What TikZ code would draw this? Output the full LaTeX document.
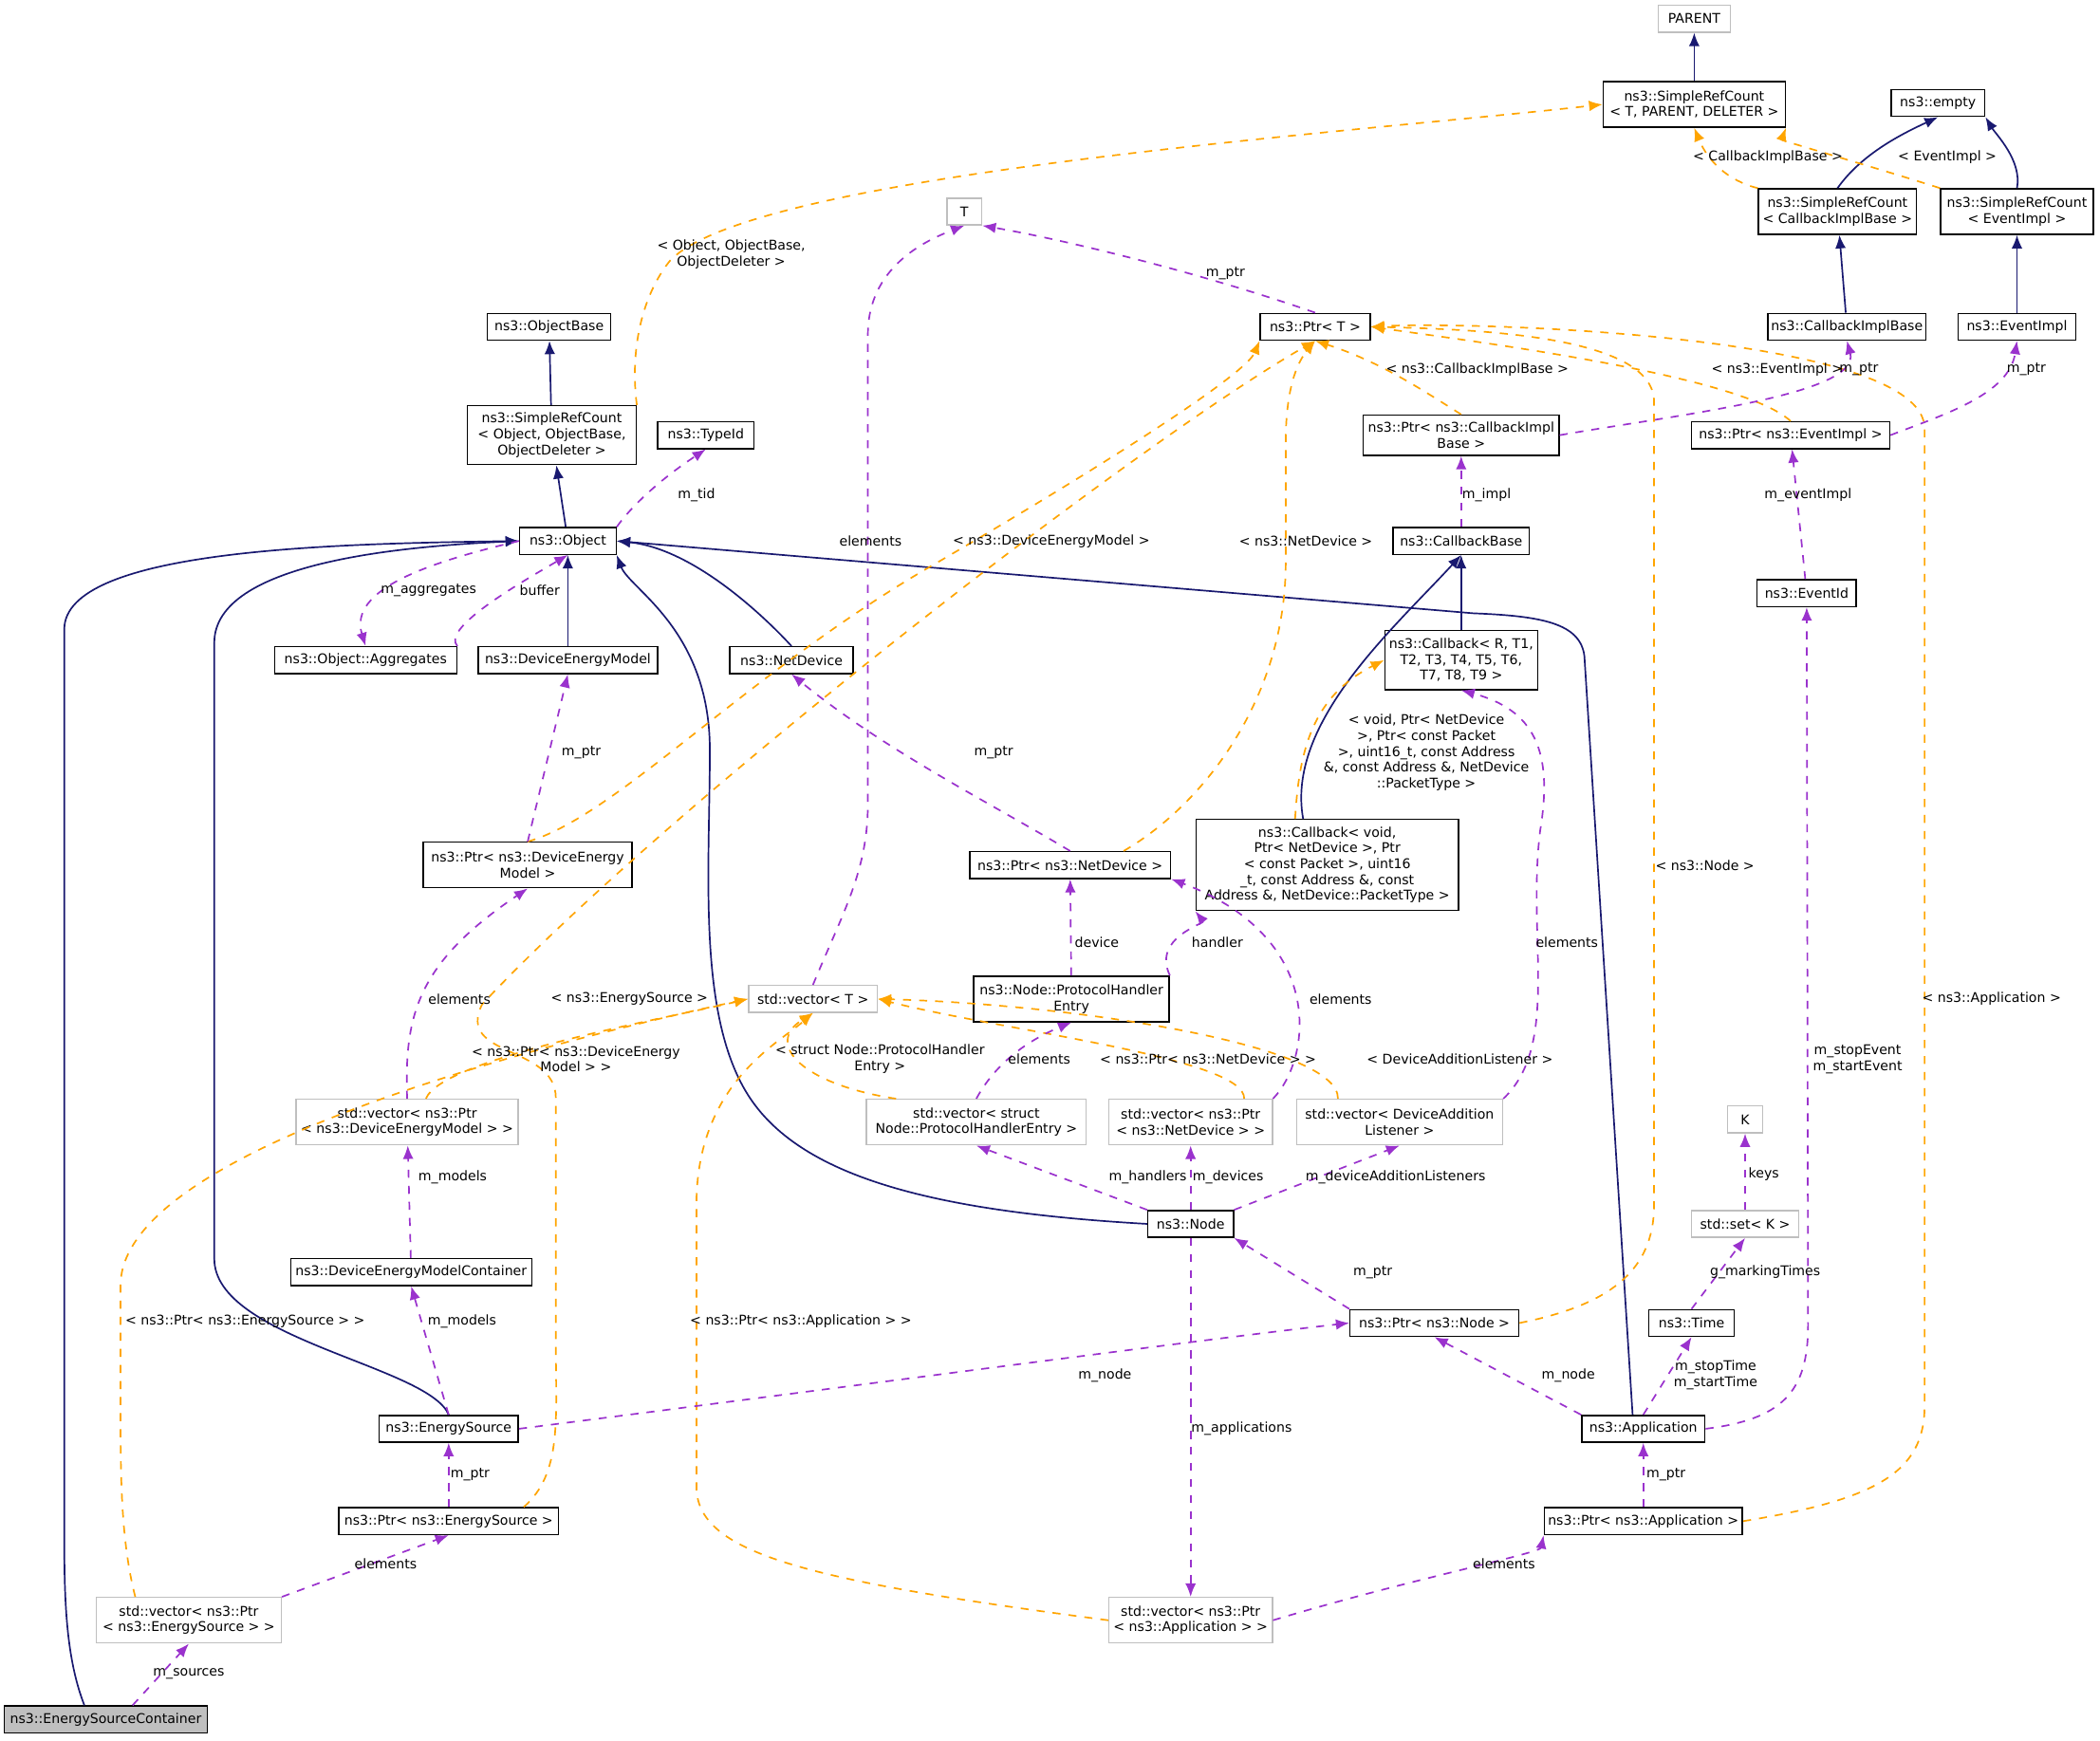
\documentclass[tikz,border=0pt]{standalone}
\usepackage{fontspec}
\setmainfont{DejaVu Sans}
\usetikzlibrary{arrows.meta}
\definecolor{navy}{HTML}{191970}
\definecolor{purp}{HTML}{9A32CD}
\definecolor{orng}{HTML}{FFA500}
\definecolor{gbor}{HTML}{BFBFBF}
\begin{document}
\begin{tikzpicture}[x=0.5pt,y=-0.5pt,
 every node/.style={font=\fontsize{5}{5.9}\selectfont},
 cls/.style={draw=black,fill=white,inner sep=1pt,align=center,minimum height=10pt,line width=0.5pt},
 ext/.style={cls,draw=gbor},
 lbl/.style={inner sep=0pt,align=center},
 inh/.style={draw=navy,line width=0.6pt,-{Latex[length=5pt,width=4pt]}},
 use/.style={draw=purp,dashed,line width=0.6pt,-{Latex[length=5pt,width=4pt]}},
 tpl/.style={draw=orng,dashed,line width=0.6pt,-{Latex[length=5pt,width=4pt]}}]
\useasboundingbox (0,0) rectangle (1568,1300);
\fill[white] (0,0) rectangle (1568,1300);
% nodes
\node[ext,minimum width=27pt] (PARENT) at (1265,14) {PARENT};
\node[cls,minimum width=68pt,minimum height=17pt] (SRCT) at (1265,78) {ns3::SimpleRefCount\\< T, PARENT, DELETER >};
\node[cls,minimum width=35pt] (empty) at (1447,77) {ns3::empty};
\node[cls,minimum width=59pt,minimum height=17pt] (SRCCB) at (1372,158) {ns3::SimpleRefCount\\< CallbackImplBase >};
\node[cls,minimum width=57pt,minimum height=17pt] (SRCEI) at (1506,158) {ns3::SimpleRefCount\\< EventImpl >};
\node[ext,minimum width=13pt] (T) at (720,158) {T};
\node[cls,minimum width=41pt] (PtrT) at (982,244) {ns3::Ptr< T >};
\node[cls,minimum width=59pt] (CBIB) at (1379,244) {ns3::CallbackImplBase};
\node[cls,minimum width=44pt] (EI) at (1506,244) {ns3::EventImpl};
\node[cls,minimum width=46pt] (OB) at (410,244) {ns3::ObjectBase};
\node[cls,minimum width=63pt,minimum height=22pt] (SRCO) at (412,325) {ns3::SimpleRefCount\\< Object, ObjectBase,\\ObjectDeleter >};
\node[cls,minimum width=36pt] (TypeId) at (527,325) {ns3::TypeId};
\node[cls,minimum width=73pt,minimum height=15pt] (PCB) at (1091,325) {ns3::Ptr< ns3::CallbackImpl\\Base >};
\node[cls,minimum width=74pt] (PEI) at (1337,325) {ns3::Ptr< ns3::EventImpl >};
\node[cls,minimum width=36pt] (Object) at (424,404) {ns3::Object};
\node[cls,minimum width=51pt] (CBB) at (1091,404) {ns3::CallbackBase};
\node[cls,minimum width=37pt] (EvId) at (1349,443) {ns3::EventId};
\node[cls,minimum width=68pt] (Agg) at (273,493) {ns3::Object::Aggregates};
\node[cls,minimum width=67pt] (DEM) at (424,493) {ns3::DeviceEnergyModel};
\node[cls,minimum width=46pt] (ND) at (591,493) {ns3::NetDevice};
\node[cls,minimum width=57pt,minimum height=22pt] (CbR) at (1091,493) {ns3::Callback< R, T1,\\T2, T3, T4, T5, T6,\\T7, T8, T9 >};
\node[cls,minimum width=98pt,minimum height=34pt] (CbV) at (991,646) {ns3::Callback< void,\\ Ptr< NetDevice >, Ptr\\< const Packet >, uint16\\\_t, const Address \&, const\\ Address \&, NetDevice::PacketType >};
\node[cls,minimum width=78pt,minimum height=17pt] (PDEM) at (394,646) {ns3::Ptr< ns3::DeviceEnergy\\Model >};
\node[cls,minimum width=75pt] (PND) at (799,646) {ns3::Ptr< ns3::NetDevice >};
\node[ext,minimum width=48pt] (VT) at (607,746) {std::vector< T >};
\node[cls,minimum width=73pt,minimum height=17pt] (PHE) at (800,746) {ns3::Node::ProtocolHandler\\Entry};
\node[ext,minimum width=83pt,minimum height=17pt] (VDEM) at (304,838) {std::vector< ns3::Ptr\\< ns3::DeviceEnergyModel > >};
\node[ext,minimum width=82pt,minimum height=17pt] (VPHE) at (729,838) {std::vector< struct\\ Node::ProtocolHandlerEntry >};
\node[ext,minimum width=61pt,minimum height=17pt] (VND) at (889,838) {std::vector< ns3::Ptr\\< ns3::NetDevice > >};
\node[ext,minimum width=77pt,minimum height=17pt] (VDAL) at (1045,838) {std::vector< DeviceAddition\\Listener >};
\node[ext,minimum width=13pt] (K) at (1303,836) {K};
\node[cls,minimum width=32pt] (Node) at (889,914) {ns3::Node};
\node[ext,minimum width=40pt] (SetK) at (1303,914) {std::set< K >};
\node[cls,minimum width=90pt] (DEMC) at (307,950) {ns3::DeviceEnergyModelContainer};
\node[cls,minimum width=63pt] (PNode) at (1071,988) {ns3::Ptr< ns3::Node >};
\node[cls,minimum width=32pt] (Time) at (1263,988) {ns3::Time};
\node[cls,minimum width=52pt] (ES) at (335,1067) {ns3::EnergySource};
\node[cls,minimum width=46pt] (App) at (1227,1067) {ns3::Application};
\node[cls,minimum width=82pt] (PES) at (335,1136) {ns3::Ptr< ns3::EnergySource >};
\node[cls,minimum width=74pt] (PApp) at (1227,1136) {ns3::Ptr< ns3::Application >};
\node[ext,minimum width=69pt,minimum height=17pt] (VES) at (141,1210) {std::vector< ns3::Ptr\\< ns3::EnergySource > >};
\node[ext,minimum width=61pt,minimum height=17pt] (VApp) at (889,1210) {std::vector< ns3::Ptr\\< ns3::Application > >};
\node[cls,fill=gbor,minimum width=76pt] (ESC) at (79,1284) {ns3::EnergySourceContainer};
% inheritance
\draw[inh] (SRCT) -- (PARENT);
\draw[inh] (SRCCB.north) .. controls (1390,115) and (1420,100) .. (empty.south);
\draw[inh] (SRCEI.north) .. controls (1510,120) and (1490,100) .. (empty.south east);
\draw[inh] (CBIB) -- (SRCCB);
\draw[inh] (EI) -- (SRCEI);
\draw[inh] (SRCO) -- (OB);
\draw[inh] (Object) -- (SRCO);
\draw[inh] (DEM) -- (Object);
\draw[inh] (ND.north) .. controls (575,465) and (520,410) .. (Object.east);
\draw[inh] (CbR) -- (CBB);
\draw[inh] ([xshift=-9pt]CbV.north) .. controls (960,540) and (1040,470) .. (CBB.south);
\draw[inh] ([xshift=-8pt]ESC.north) .. controls (50,1240) and (48,1200) .. (48,1150) -- (48,470) .. controls (48,410) and (250,406) .. (Object.west);
\draw[inh] (ES.north) .. controls (320,1020) and (160,1000) .. (160,940) -- (160,480) .. controls (160,420) and (300,408) .. (Object.west);
\draw[inh] (Node.west) .. controls (700,905) and (600,880) .. (560,820) .. controls (520,760) and (530,650) .. (530,560) .. controls (530,470) and (470,440) .. (Object.south east);
\draw[inh] ([xshift=-4pt]App.north) -- (1183,490) .. controls (1180,465) and (1150,460) .. (1100,458) -- (Object.east);
% templates
\draw[tpl] (SRCO.north east) .. controls (470,260) and (480,220) .. (500,195) .. controls (560,130) and (1000,100) .. (SRCT.west);
\draw[tpl] (SRCCB.north west) .. controls (1290,135) and (1275,120) .. (SRCT.south);
\draw[tpl] (SRCEI.north west) .. controls (1400,125) and (1330,105) .. (SRCT.south east);
\draw[tpl] (PCB.north) .. controls (1060,290) and (1030,270) .. (PtrT.south);
\draw[tpl] (PEI.north) .. controls (1300,280) and (1100,255) .. (PtrT.east);
\draw[tpl] (PDEM.north) .. controls (460,610) and (560,500) .. (700,420) .. controls (820,350) and (930,280) .. (PtrT.south west);
\draw[tpl] ([xshift=20pt]PND.north) .. controls (900,600) and (960,520) .. (960,420) -- (960,330) .. controls (960,300) and (965,275) .. (PtrT.south);
\draw[tpl] ([xshift=28pt]PES.north) .. controls (420,1100) and (415,1060) .. (415,1000) -- (415,820) .. controls (415,780) and (340,790) .. (360,750) .. controls (500,600) and (850,330) .. (PtrT.south);
\draw[tpl] (PNode.east) .. controls (1200,975) and (1235,950) .. (1235,900) -- (1235,300) .. controls (1235,250) and (1100,246) .. (PtrT.east);
\draw[tpl] (PApp.east) .. controls (1400,1120) and (1437,1100) .. (1437,1050) -- (1437,320) .. controls (1437,250) and (1100,240) .. (PtrT.east);
\draw[tpl] ([xshift=-12pt]CbV.north) .. controls (970,560) and (980,520) .. (CbR.west);
\draw[tpl] ([xshift=-20pt]VES.north) .. controls (90,1150) and (90,1100) .. (90,1050) -- (90,960) .. controls (90,860) and (400,780) .. (VT.west);
\draw[tpl] (VApp.west) .. controls (600,1180) and (520,1160) .. (520,1110) -- (520,900) .. controls (520,810) and (580,780) .. (VT.south);
\draw[tpl] ([xshift=7pt]VDEM.north) .. controls (330,790) and (500,760) .. (VT.west);
\draw[tpl] ([xshift=-30pt]VPHE.north) .. controls (600,810) and (570,780) .. (VT.south);
\draw[tpl] ([xshift=20pt]VND.north) .. controls (930,790) and (750,770) .. (VT.east);
\draw[tpl] ([xshift=-23pt]VDAL.north) .. controls (1000,780) and (800,750) .. (VT.east);
% usage
\draw[use] (PtrT.north) .. controls (900,205) and (800,180) .. (T.south east);
\draw[use] (Object.north east) .. controls (470,380) and (490,360) .. (TypeId.south);
\draw[use] (PCB.east) .. controls (1250,310) and (1390,295) .. (CBIB.south);
\draw[use] (PEI.east) .. controls (1450,310) and (1500,295) .. (EI.south);
\draw[use] (CBB) -- (PCB);
\draw[use] (EvId) -- (PEI);
\draw[use] (Object.west) .. controls (320,420) and (260,440) .. (Agg.north);
\draw[use] (Agg.north east) .. controls (330,470) and (380,440) .. (Object.south);
\draw[use] (PDEM.north) -- (DEM.south);
\draw[use] (PND.north) .. controls (740,600) and (660,560) .. (ND.south);
\draw[use] (VT.north) .. controls (630,680) and (648,650) .. (648,600) -- (648,250) .. controls (648,200) and (690,180) .. (T.south);
\draw[use] (PHE.north east) .. controls (860,700) and (900,690) .. (CbV.south west);
\draw[use] (PHE) -- (PND);
\draw[use] (VND.north east) .. controls (980,790) and (990,700) .. (PND.south east);
\draw[use] (VDAL.north east) .. controls (1165,780) and (1140,700) .. (1150,620) .. controls (1160,560) and (1145,530) .. (CbR.south);
\draw[use] (VDEM.north) .. controls (302,760) and (310,720) .. (PDEM.south);
\draw[use] (VPHE.north) .. controls (740,800) and (760,780) .. (PHE.south);
\draw[use] (DEMC) -- (VDEM);
\draw[use] (Node.north west) -- (VPHE.south);
\draw[use] (Node) -- (VND);
\draw[use] (Node.north east) -- (VDAL.south);
\draw[use] (Node) -- (VApp);
\draw[use] (SetK) -- (K);
\draw[use] (Time.north) -- (SetK.south);
\draw[use] (PNode.north west) -- (Node.south east);
\draw[use] (ES.north) -- (DEMC.south);
\draw[use] (ES.east) .. controls (600,1040) and (900,1000) .. (PNode.west);
\draw[use] (App.north west) -- (PNode.south);
\draw[use] (App.north) -- (Time.south);
\draw[use] (App.east) .. controls (1330,1060) and (1350,1040) .. (1350,990) -- (EvId.south);
\draw[use] (PES) -- (ES);
\draw[use] (PApp) -- (App);
\draw[use] (VES.north east) -- (PES.south);
\draw[use] (VApp.east) .. controls (1050,1180) and (1150,1160) .. (PApp.south west);
\draw[use] ([xshift=10pt]ESC.north) -- (VES.south);
% labels
\node[lbl] (l1) at (546,190) {< Object, ObjectBase,\\ObjectDeleter >};
\node[lbl] (l2) at (1320,117) {< CallbackImplBase >};
\node[lbl] (l3) at (1454,117) {< EventImpl >};
\node[lbl] (l4) at (915,204) {m\_ptr};
\node[lbl] (l5) at (520,370) {m\_tid};
\node[lbl] (l6) at (1103,276) {< ns3::CallbackImplBase >};
\node[lbl] (l7) at (1327,276) {< ns3::EventImpl >};
\node[lbl] (l8) at (1388,276) {m\_ptr};
\node[lbl] (l9) at (1513,276) {m\_ptr};
\node[lbl] (l10) at (1110,370) {m\_impl};
\node[lbl] (l11) at (1350,370) {m\_eventImpl};
\node[lbl] (l12) at (320,441) {m\_aggregates};
\node[lbl] (l13) at (403,441) {buffer};
\node[lbl] (l14) at (1065,562) {< void, Ptr< NetDevice\\>, Ptr< const Packet\\>, uint16\_t, const Address\\\&, const Address \&, NetDevice\\::PacketType >};
\node[lbl] (l15) at (434,562) {m\_ptr};
\node[lbl] (l16) at (742,562) {m\_ptr};
\node[lbl] (l17) at (785,404) {< ns3::DeviceEnergyModel >};
\node[lbl] (l18) at (975,404) {< ns3::NetDevice >};
\node[lbl] (l19) at (470,746) {< ns3::EnergySource >};
\node[lbl] (l20) at (1273,646) {< ns3::Node >};
\node[lbl] (l21) at (1487,746) {< ns3::Application >};
\node[lbl] (l22) at (650,404) {elements};
\node[lbl] (l23) at (909,704) {handler};
\node[lbl] (l24) at (819,704) {device};
\node[lbl] (l25) at (1001,746) {elements};
\node[lbl] (l26) at (1170,704) {elements};
\node[lbl] (l27) at (343,746) {elements};
\node[lbl] (l28) at (430,791) {< ns3::Ptr< ns3::DeviceEnergy\\Model > >};
\node[lbl] (l29) at (657,791) {< struct Node::ProtocolHandler\\Entry >};
\node[lbl] (l30) at (902,791) {< ns3::Ptr< ns3::NetDevice > >};
\node[lbl] (l31) at (1090,791) {< DeviceAdditionListener >};
\node[lbl] (l32) at (183,987) {< ns3::Ptr< ns3::EnergySource > >};
\node[lbl] (l33) at (598,987) {< ns3::Ptr< ns3::Application > >};
\node[lbl] (l34) at (776,791) {elements};
\node[lbl] (l35) at (338,879) {m\_models};
\node[lbl] (l36) at (857,879) {m\_handlers};
\node[lbl] (l37) at (917,879) {m\_devices};
\node[lbl] (l38) at (1042,879) {m\_deviceAdditionListeners};
\node[lbl] (l39) at (1317,877) {keys};
\node[lbl] (l40) at (1318,950) {g\_markingTimes};
\node[lbl] (l41) at (1025,950) {m\_ptr};
\node[lbl] (l42) at (345,987) {m\_models};
\node[lbl] (l43) at (825,1027) {m\_node};
\node[lbl] (l44) at (1171,1027) {m\_node};
\node[lbl] (l45) at (1281,1027) {m\_stopTime\\m\_startTime};
\node[lbl] (l46) at (1387,791) {m\_stopEvent\\m\_startEvent};
\node[lbl] (l47) at (351,1101) {m\_ptr};
\node[lbl] (l48) at (1244,1101) {m\_ptr};
\node[lbl] (l49) at (288,1168) {elements};
\node[lbl] (l50) at (1123,1168) {elements};
\node[lbl] (l51) at (927,1067) {m\_applications};
\node[lbl] (l52) at (141,1250) {m\_sources};
\end{tikzpicture}
\end{document}
